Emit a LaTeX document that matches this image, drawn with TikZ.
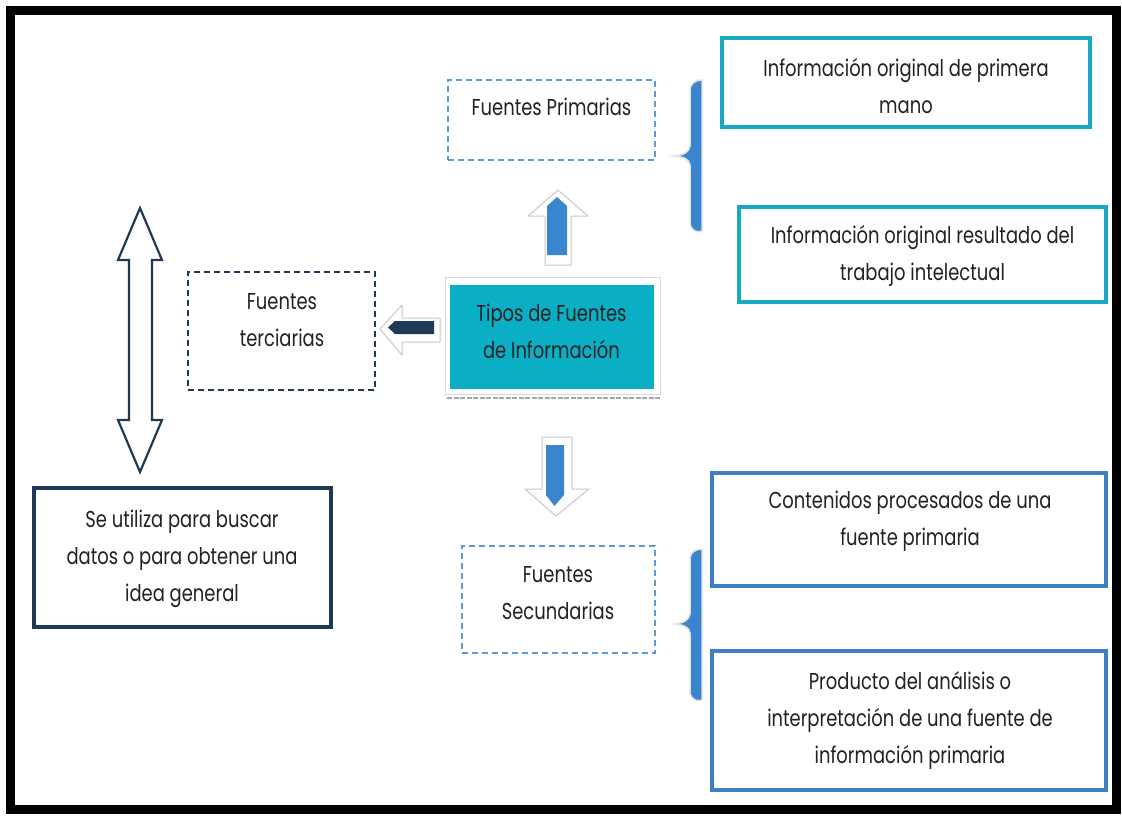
\documentclass[tikz,border=0pt]{standalone}
\usepackage{fontspec}
\setmainfont{Poppins}[FakeStretch=0.78]
\definecolor{teal1}{HTML}{17A9C1}
\definecolor{tealfill}{HTML}{0BAFC5}
\definecolor{blue1}{HTML}{3E7FC1}
\definecolor{lblue}{HTML}{5B9BD5}
\definecolor{arrblue}{HTML}{3A86CE}
\definecolor{navy}{HTML}{1F3A56}
\definecolor{ink}{HTML}{222222}
\begin{document}
\begin{tikzpicture}[x=1pt,y=-1pt,
  txt/.style={font=\fontsize{23}{37}\selectfont, text=ink, align=center, inner sep=0pt},
  dashbox/.style={draw=lblue, line width=1.6pt, dash pattern=on 6pt off 4pt, inner sep=0pt},
  tealbox/.style={draw=teal1, line width=3.5pt, inner sep=0pt},
  bluebox/.style={draw=blue1, line width=3.5pt, inner sep=0pt},
  navybox/.style={draw=navy, line width=3.5pt, inner sep=0pt},
  brace/.style={fill=arrblue, draw=white!90!black, line width=1.5pt},
  blockout/.style={fill=white, draw=black!22, line width=1pt, line join=round},
]
\useasboundingbox (0,0) rectangle (1122,816);
\fill[white] (0,0) rectangle (1122,816);
% frame
\draw[line width=9pt] (10.5,10.5) rectangle (1116,809);

% boxes
\node[dashbox, minimum width=207pt, minimum height=80pt] (fp) at (551.5,120) {};
\node[txt] (fpt) at (551.5,107) {Fuentes Primarias};

\node[tealbox, minimum width=368pt, minimum height=89pt] (p1) at (906,82.5) {};
\node[txt] (p1t) at (906,86) {Información original de primera\\mano};

\node[tealbox, minimum width=367pt, minimum height=95pt] (p2) at (922.5,254.5) {};
\node[txt] (p2t) at (922.5,256) {Información original resultado del\\trabajo intelectual};

% central box
\fill[white, draw=black!15, line width=1pt] (445,277) rectangle (660,394);
\node[fill=tealfill, minimum width=204pt, minimum height=104pt, inner sep=0pt] (tipos) at (551.5,337) {};
\node[txt] (tipost) at (551.5,331) {Tipos de Fuentes\\de Información};
\draw[black!35, line width=1.2pt, dash pattern=on 5pt off 1.5pt] (447,398) -- (660,398);

\node[dashbox, draw=navy, minimum width=187pt, minimum height=118pt] (ft) at (281.5,331) {};
\node[txt] (ftt) at (282,320) {Fuentes\\terciarias};

\node[navybox, minimum width=297pt, minimum height=139pt] (se) at (182.5,557.5) {};
\node[txt] (set) at (182,559) {Se utiliza para buscar\\datos o para obtener una\\idea general};

\node[dashbox, minimum width=193pt, minimum height=107pt] (fs) at (558.5,599.5) {};
\node[txt] (fst) at (558,593) {Fuentes\\Secundarias};

\node[bluebox, minimum width=394pt, minimum height=113pt] (s1) at (909,529.5) {};
\node[txt] (s1t) at (910,521.5) {Contenidos procesados de una\\fuente primaria};

\node[bluebox, minimum width=394pt, minimum height=139pt] (s2) at (909,720.5) {};
\node[txt] (s2t) at (910,720.5) {Producto del análisis o\\interpretación de una fuente de\\información primaria};

% block arrow up
\path[blockout] (558,190) -- (588,216) -- (571,216) -- (571,265) -- (545,265) -- (545,216) -- (528,216) -- cycle;
\fill[arrblue] (557,197) -- (567,206) -- (567,255) -- (547,255) -- (547,206) -- cycle;

% block arrow left
\path[blockout] (380,329) -- (402,305) -- (402,318) -- (440,318) -- (440,342) -- (402,342) -- (402,355) -- cycle;
\fill[navy] (388,327.5) -- (395,321) -- (434,321) -- (434,334) -- (395,334) -- cycle;

% block arrow down
\path[blockout] (556,516) -- (589,489) -- (572,489) -- (572,437) -- (542,437) -- (542,489) -- (525,489) -- cycle;
\fill[arrblue] (554.5,506) -- (564,495) -- (564,445) -- (546,445) -- (546,495) -- cycle;

% double arrow
\draw[navy, line width=2.2pt, fill=white, line join=miter] (140,208) -- (162,260) -- (152,260) -- (152,420) -- (162,420) -- (140,472) -- (118,420) -- (129,420) -- (129,260) -- (118,260) -- cycle;

% braces
\path[brace] (702,80) -- (702,231) .. controls (698,233) and (692,231) .. (690,225)
  -- (690,165) .. controls (689,159) and (684,157) .. (674,156)
  .. controls (684,155) and (689,152) .. (690,146)
  -- (690,90) .. controls (690,84) and (695,80) .. (702,80) -- cycle;
\path[brace] (702,549) -- (702,700) .. controls (698,702) and (692,700) .. (690,694)
  -- (690,633) .. controls (689,627) and (684,625) .. (674,624)
  .. controls (684,623) and (689,620) .. (690,614)
  -- (690,559) .. controls (690,553) and (695,549) .. (702,549) -- cycle;
\end{tikzpicture}
\end{document}
